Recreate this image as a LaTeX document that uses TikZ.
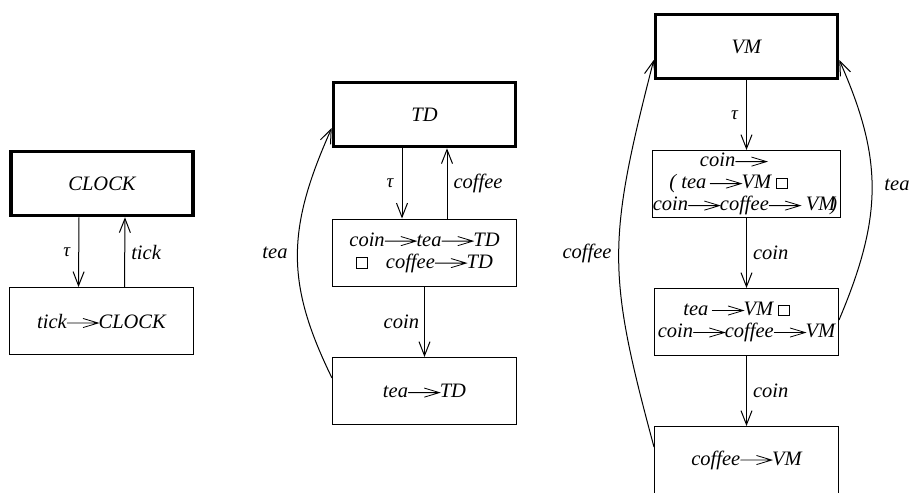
\documentclass[tikz,border=0pt]{standalone}
\usepackage{fontspec}
\setmainfont{Liberation Serif}
\usetikzlibrary{arrows.meta}
\newcommand\thn{\tikz[baseline=0pt]\draw[line width=0.8pt,line cap=round,line join=miter] (0pt,5pt) -- (31pt,5pt) (16pt,9.5pt) -- (31pt,5pt) -- (16pt,0.5pt);}
\newcommand\sqbox{\tikz[baseline=0pt]\draw[line width=0.8pt] (0pt,0pt) rectangle (10.5pt,10.5pt);}
\begin{document}
\begin{tikzpicture}[x=1pt,y=-1pt,
  box/.style={draw,line width=1pt,minimum width=184pt,minimum height=67pt,inner sep=0pt,align=center,
    font=\fontsize{20.5}{22}\selectfont\itshape},
  proc/.style={box,line width=3.5pt,minimum width=182pt,minimum height=64pt},
  arr/.style={line width=1pt,-{Straight Barb[length=14pt,width=11pt,line width=1pt]}},
  lbl/.style={font=\fontsize{20.5}{22}\selectfont\itshape,inner sep=0pt},
  taul/.style={font=\fontsize{19}{19}\selectfont\itshape,inner sep=0pt}]
\useasboundingbox (0,0) rectangle (911,493);
\clip (0,0) rectangle (911,493);
% CLOCK
\node[proc] (clk) at (102,183.5) {CLOCK};
\node[box] (clk2) at (101.5,321) {tick\thn CLOCK};
\draw[arr] ([xshift=-23pt]clk.south) -- ([xshift=-23pt]clk2.north) node[midway,left=8pt,taul] (clkt) {τ};
\draw[arr] ([xshift=23pt]clk2.north) -- ([xshift=23pt]clk.south) node[midway,right=6pt,lbl] (clkl) {tick};
% TD
\node[proc] (td) at (424.5,114.5) {TD};
\node[box] (td2) at (424.5,252.5) {coin\thn tea\thn TD\\ \sqbox\hspace{0.9em}coffee\thn TD};
\node[box] (td3) at (424.5,391) {tea\thn TD};
\draw[arr] ([xshift=-22.5pt]td.south) -- ([xshift=-22.5pt]td2.north) node[midway,left=8pt,taul] (tdt) {τ};
\draw[arr] ([xshift=22.5pt]td2.north) -- ([xshift=22.5pt]td.south) node[midway,right=6pt,lbl] (tdc) {coffee};
\draw[arr] (td2.south) -- (td3.north) node[midway,left=5pt,lbl] (tdn) {coin};
\draw[arr] ([yshift=13pt]td3.west) .. controls (286,284) and (286,230) .. ([yshift=-13.5pt]td.west);
\node[lbl] (tdtea) at (275,253) {tea};
% VM
\node[proc] (vm) at (746.5,46.5) {VM};
\node[box] (vm2) at (746.5,184) {coin\thn\kern26pt\\ ( tea\,\thn VM \sqbox\kern36pt\\ coin\thn coffee\thn\ VM\kern-5pt)\kern3pt};
\node[box] (vm3) at (746.5,322) {tea\,\thn VM \sqbox\kern20pt\\ coin\thn coffee\thn VM};
\node[box] (vm4) at (746.5,460) {coffee\thn VM};
\draw[arr] (vm.south) -- (vm2.north) node[midway,left=8pt,taul] (vmt) {τ};
\draw[arr] (vm2.south) -- (vm3.north) node[midway,right=6pt,lbl] (vmc1) {coin};
\draw[arr] (vm3.south) -- (vm4.north) node[midway,right=6pt,lbl] (vmc2) {coin};
\draw[arr] ([yshift=13pt]vm4.west) .. controls (607,273) and (607,242) .. ([yshift=-13.5pt]vm.west);
\draw[arr] ([yshift=2pt]vm3.east) .. controls (883,216) and (883,159) .. ([yshift=-13.5pt]vm.east);
\node[lbl] (vmcof) at (587,253) {coffee};
\node[lbl] (vmtea) at (897,185) {tea};
\end{tikzpicture}
\end{document}
